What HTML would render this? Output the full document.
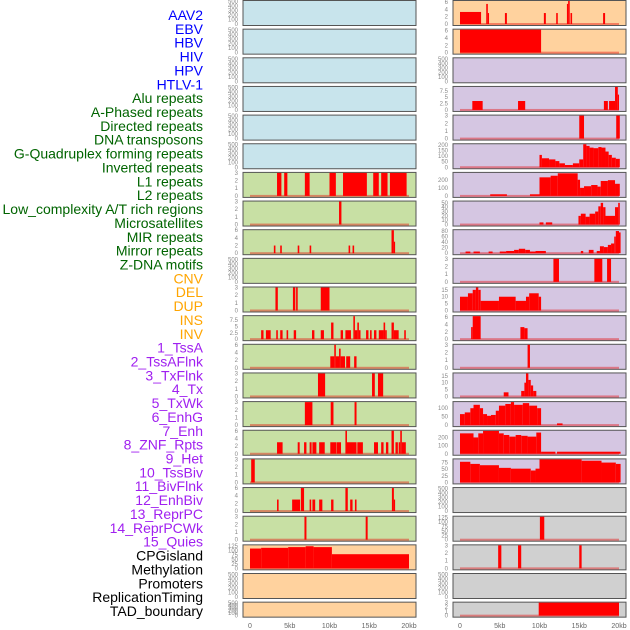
<!DOCTYPE html>
<html><head><meta charset="utf-8"><style>
body{margin:0;background:#fff;width:630px;height:630px;overflow:hidden}
svg{display:block}
</style></head><body>
<svg id="chart" width="630" height="630" xmlns="http://www.w3.org/2000/svg"></svg>
<script>
const panelLabels=["AAV2","EBV","HBV","HIV","HPV","HTLV-1","Alu repeats","A-Phased repeats","Directed repeats","DNA transposons","G-Quadruplex forming repeats","Inverted repeats","L1 repeats","L2 repeats","Low_complexity A/T rich regions","Microsatellites","MIR repeats","Mirror repeats","Z-DNA motifs","CNV","DEL","DUP","INS","INV","1_TssA","2_TssAFlnk","3_TxFlnk","4_Tx","5_TxWk","6_EnhG","7_Enh","8_ZNF_Rpts","9_Het","10_TssBiv","11_BivFlnk","12_EnhBiv","13_ReprPC","14_ReprPCWk","15_Quies","CPGisland","Methylation","Promoters","ReplicationTiming","TAD_boundary"];
const panelGroups=["virus","virus","virus","virus","virus","virus","repeat","repeat","repeat","repeat","repeat","repeat","repeat","repeat","repeat","repeat","repeat","repeat","repeat","sv","sv","sv","sv","sv","chrom","chrom","chrom","chrom","chrom","chrom","chrom","chrom","chrom","chrom","chrom","chrom","chrom","chrom","chrom","other","other","other","other","other"];
const T500=[0,100,200,300,400,500],T3=[0,1,2,3],T6=[0,2,4,6],T75=[0,2.5,5,7.5];
const panelTicks=[T500,T500,T500,T500,T500,T500,T3,T3,T6,T500,T3,T75,T6,T3,T3,T6,T3,T6,T3,[0,25,50,75,100,125],T500,T500,
T6,T6,T500,T75,T3,[0,50,100,150,200],[0,100,200],[0,10,20,30,40,50],[0,20,40,60,80],T3,[0,5,10,15],T6,T3,[0,5,10,15],[0,50,100],[0,100,200],[0,25,50,75],T500,[0,25,50,75,100,125],T3,T500,T3];
const panelYMax=[510,510,510,510,510,510,3,3,6,510,3,9,6,3,3,6,3,6,3,130,510,510,
6.3,6.3,510,9,3,205,285,53,83,3,16.7,6.3,3,16.7,136,282,87,510,130,3,510,3];
const panelSegments=[
[],[],[],[],[],[],
[[3.4,3.95,3],[4.3,4.7,3],[6.9,7.5,3],[10,10.8,3],[11.7,14.7,3],[15.5,16.2,3],[16.5,17.3,3],[17.6,19.7,3]],
[[11.2,11.5,3]],
[[3.0,3.2,2],[3.8,4.0,2],[6.0,6.2,2],[7.5,7.7,2],[12.4,12.6,2],[12.9,13.1,2],[17.8,18.1,6],[18.1,18.2,3]],
[],
[[3.2,3.5,3],[5.4,5.7,3],[5.8,6.0,3],[8.9,10.0,3]],
[[1.4,1.7,3.5],[2.0,2.6,3.5],[3.3,3.5,3.5],[3.8,4.1,3.5],[4.6,4.8,3.5],[5.5,5.8,3.5],[7.8,8.1,3.5],[8.9,9.3,3.5],[10.2,10.5,6.5],[11.4,11.7,3.5],[12.0,12.7,3.5],[13.0,13.2,9],[13.2,13.5,3.5],[13.5,13.7,6.5],[13.7,13.9,3.5],[14.6,14.9,3.5],[15.1,15.3,3.5],[15.6,15.9,3.5],[16.2,16.8,3.5],[16.8,17.0,6.5],[17.0,17.2,3.5],[17.8,18.1,6.5],[18.1,18.7,3.5],[19.4,19.6,3.5]],
[[10.1,10.6,3],[10.6,10.8,6],[10.8,11.2,3],[11.2,11.4,5],[11.4,11.95,3],[12.1,12.6,3],[13.1,13.4,3]],
[[8.55,9.45,3],[15.35,15.7,3],[16.1,16.75,3]],
[[6.9,7.85,3],[10.15,10.5,3],[13.15,13.4,3]],
[[3.4,4.1,3],[6.0,6.25,3],[6.8,7.1,3],[7.5,7.75,3],[7.85,8.35,3],[8.7,9.4,3],[10.1,10.85,3],[10.9,11.45,3],[12.0,12.2,6],[12.2,13.4,3],[13.5,14.2,3],[15.6,16.1,3],[16.5,16.8,3],[17.1,17.4,3],[17.8,18.1,6],[18.3,18.6,3],[18.7,18.9,3],[18.9,19.1,6],[19.1,19.6,3]],
[[0.15,0.6,3]],
[[3.4,3.6,3],[5.3,6.3,3],[6.4,6.8,6],[7.5,7.7,3],[7.85,8.2,3],[8.7,9.1,3],[10.2,10.5,3],[12.0,12.3,6],[12.6,12.9,3],[13.2,13.4,3],[17.85,18.1,6],[18.1,18.2,3]],
[[6.85,7.1,3],[14.55,14.8,3]],
[[0,1.4,112],[1.4,4.8,116],[4.8,7,120],[7,8,125],[8,10.3,120],[10.3,20,80]],
[],[],
[[0,2.65,3.3],[3.3,3.5,5.5],[3.5,3.6,3],[5.65,5.9,3],[10.55,10.8,3],[12.1,12.3,3],[13.45,13.6,5.5],[13.6,13.8,6.5],[13.9,14.1,3],[18.0,18.25,3]],
[[0,10.2,6.5]],
[],
[[1.55,2.85,3.5],[7.3,8.2,3.5],[18.1,18.6,3.5],[18.75,19.5,3.5],[19.5,19.85,9],[19.85,20,6]],
[[15.0,15.6,3],[19.65,20.1,3]],
[[10,10.3,110],[10.3,11.2,80],[11.2,12,70],[12,12.5,55],[12.5,13.2,35],[13.2,14.2,20],[14.2,15,35],[15,15.5,70],[15.5,15.9,210],[15.9,16.3,190],[16.3,16.8,175],[16.8,17.4,170],[17.4,17.8,180],[17.8,18.3,175],[18.3,18.7,140],[18.7,19.1,110],[19.1,19.6,85],[19.6,20.1,75]],
[[3.8,5.9,20],[8.8,10,20],[10,11.4,230],[11.4,12.3,250],[12.3,14.8,280],[14.8,15.1,200],[15.1,15.6,100],[15.6,16.5,120],[16.5,17.3,135],[17.3,17.7,115],[17.7,18.6,185],[18.6,19.5,195],[19.5,20.1,150]],
[[10,10.5,5],[10.8,11.6,5],[14.9,15.2,20],[15.2,15.8,25],[15.8,16.3,18],[16.3,17,25],[17,17.4,30],[17.4,17.7,42],[17.7,18,50],[18,18.3,40],[18.3,19.5,20],[19.5,19.9,40],[19.9,20.1,50]],
[[0.7,1.3,6],[1.7,2.5,6],[3.6,4.1,6],[5,5.8,6],[5.8,6.8,8],[6.8,7.4,12],[7.4,8.2,16],[8.2,8.8,12],[8.8,9.5,6],[9.5,10.8,8],[15.2,15.5,8],[16.2,16.8,12],[17.2,17.6,8],[17.6,18.1,25],[18.1,18.6,22],[18.6,19,30],[19,19.4,35],[19.4,19.6,60],[19.6,20,80],[20,20.2,75]],
[[11.75,12.45,3],[16.9,17.9,3],[18.5,19,3]],
[[0,1,10],[1,1.6,12.5],[1.6,2,15],[2,2.3,17],[2.3,2.6,15],[2.6,4.9,7],[4.9,7,10],[7,8.3,7],[8.3,8.7,10],[8.7,9.9,12.5],[9.9,10.2,10]],
[[1.4,1.6,3.3],[1.6,2.6,6.3],[7.6,8.1,3.3],[8.1,8.5,3]],
[[8.5,8.8,3]],
[[5.5,6.1,3],[7.7,8.1,4],[8.1,8.3,10],[8.3,8.6,18],[8.6,8.9,12],[8.9,9.2,8],[9.2,9.6,4]],
[[0,0.6,65],[0.6,1.3,75],[1.3,1.7,100],[1.7,2.5,120],[2.5,2.9,100],[2.9,3.4,65],[3.4,3.9,55],[3.9,4.5,60],[4.5,4.9,85],[4.9,5.7,115],[5.7,6.4,125],[6.4,6.8,140],[6.8,7.9,120],[7.9,8.7,130],[8.7,9.7,115],[9.7,10.2,100],[12.2,12.9,10]],
[[0,1.7,250],[1.7,2.3,200],[2.3,2.9,250],[2.9,4.9,280],[4.9,5.5,250],[5.5,6.2,230],[6.2,7,210],[7,7.7,230],[7.7,8.5,220],[8.5,9.6,210],[9.6,10.2,260],[10.2,12,25],[12.2,20.2,25]],
[[0,1.3,78],[1.3,2.5,70],[2.5,4.9,65],[4.9,6.4,55],[6.4,8.9,52],[8.9,9.5,45],[9.5,10,52],[10,15.3,88],[15.3,17.8,82],[17.8,19.6,75],[19.6,20.2,70]],
[],
[[10.05,10.6,130]],
[[4.8,5.2,3],[7.3,7.7,3],[15.0,15.3,3]],
[],
[[9.9,20,3]]
];
const xTickValues=[0,5,10,15,20];
const xTickLabels=["0","5kb","10kb","15kb","20kb"];

const NS="http://www.w3.org/2000/svg";
const svg=document.getElementById('chart');
const groupColors={virus:"#0000ff",repeat:"#006400",sv:"#ffa500",chrom:"#a020f0",other:"#000000"};
function bg(i){
  if(i<6) return "#c8e4ec";
  if(i<19) return "#c8e0a4";
  if(i<24) return "#ffd29e";
  if(i<39) return "#d5c6e2";
  return "#d0d0d0";
}
function mk(tag,attrs){const e=document.createElementNS(NS,tag);for(const k in attrs)e.setAttribute(k,attrs[k]);svg.appendChild(e);return e;}
const colLeft=[243,453], colOrigin=[250,460], pxPerKb=7.95;
function xScale(col,kb){return colOrigin[col]+kb*pxPerKb;}

// labels
panelLabels.forEach((lab,i)=>{
  const t=mk('text',{x:203,y:15+i*13.86+5,'text-anchor':'end','font-family':'Liberation Sans, sans-serif','font-size':'14',fill:groupColors[panelGroups[i]]});
  t.textContent=lab;
  
  
});

panelLabels.forEach((lab,i)=>{
  const col=i<22?0:1, row=i%22;
  const top=row*28.65+0.5, h=row===21?15:25;
  const y0=top+h-1.5, yTop=top+0.5, ymax=panelYMax[i];
  const yScale=v=>y0-(Math.min(v,ymax)/ymax)*(y0-yTop);
  const r=mk('rect',{x:colLeft[col],y:top,width:173,height:h,fill:bg(i),stroke:'#555',"stroke-width":1});
  
  
  panelTicks[i].forEach(v=>{
    const t=mk('text',{x:colLeft[col]-5,y:yScale(v)+2,'text-anchor':'end','font-family':'Liberation Sans, sans-serif','font-size':'6',fill:'#888'});
    t.textContent=String(v);
    
    
  });
  const segs=panelSegments[i];
  if(segs.length){
    const b=mk('rect',{x:xScale(col,0),y:y0-1,width:xScale(col,20)-xScale(col,0),height:2,fill:'rgba(230,0,0,0.4)'});
    
    
  }
  segs.forEach(s=>{
    const x1=xScale(col,s[0]),x2=xScale(col,s[1]),yv=yScale(s[2]);
    const e=mk('rect',{x:x1,y:yv,width:Math.max(1.2,x2-x1),height:y0-yv,fill:'#ff0000'});
    
    
  });
});

[0,1].forEach(col=>{
  xTickValues.forEach((v,k)=>{
    const t=mk('text',{x:xScale(col,v),y:628,'text-anchor':'middle','font-family':'Liberation Sans, sans-serif','font-size':'7',fill:'#666'});
    t.textContent=xTickLabels[k];
    
    
  });
});
</script>
</body></html>
